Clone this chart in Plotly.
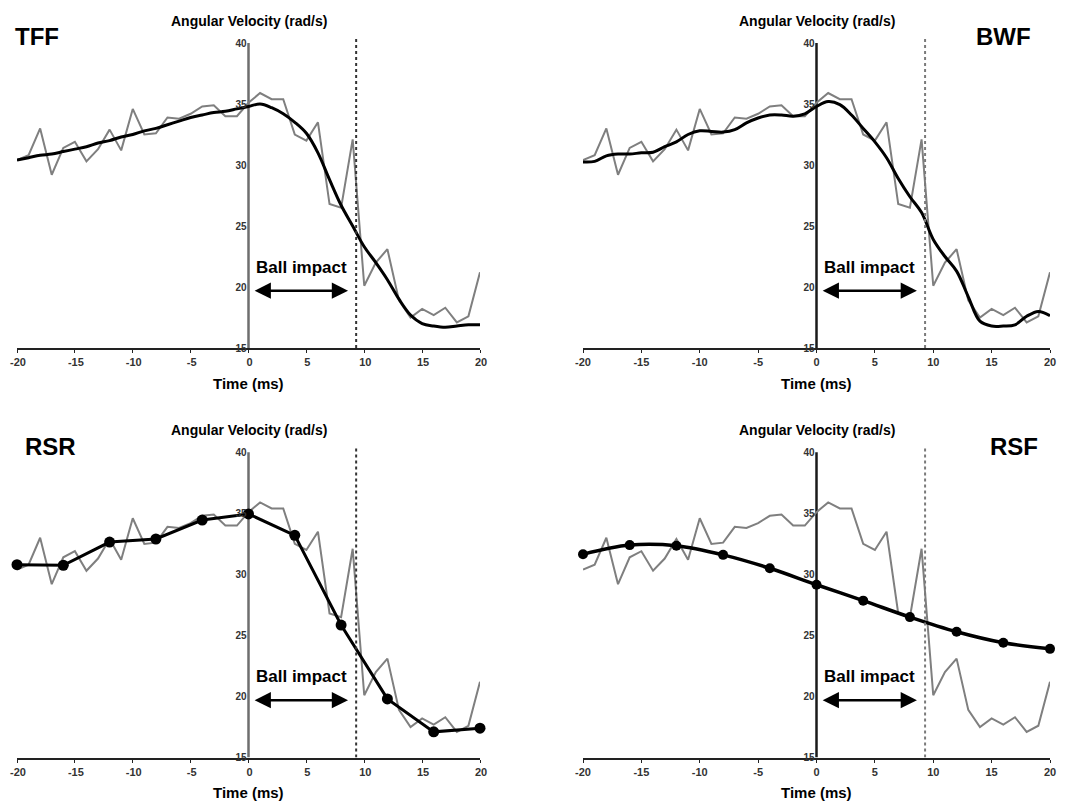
import plotly.graph_objects as go

# ---------------- data ----------------
time_ms = list(range(-20, 21))
raw_velocity = [30.4, 30.8, 33.0, 29.2, 31.4, 31.9, 30.3, 31.3, 32.9, 31.2,
                34.6, 32.5, 32.6, 33.9, 33.8, 34.2, 34.8, 34.9, 34.0, 34.0,
                35.1, 35.9, 35.4, 35.4, 32.5, 32.0, 33.5, 26.8, 26.5, 32.1,
                20.1, 22.0, 23.1, 18.9, 17.5, 18.2, 17.7, 18.3, 17.1, 17.6,
                21.2]
tff_smooth = [30.4, 30.6, 30.8, 30.9, 31.1, 31.3, 31.5, 31.8, 32.0, 32.3,
              32.5, 32.8, 33.0, 33.3, 33.6, 33.9, 34.1, 34.3, 34.4, 34.6,
              34.8, 35.0, 34.7, 34.2, 33.5, 32.6, 31.0, 28.8, 26.7, 25.0,
              23.3, 22.0, 20.6, 19.0, 17.7, 17.0, 16.8, 16.7, 16.8, 16.9,
              16.9]
bwf_smooth = [30.25, 30.3, 30.75, 30.9, 30.9, 31.0, 31.05, 31.5, 31.9, 32.5,
              32.8, 32.75, 32.7, 32.9, 33.45, 33.85, 34.1, 34.1, 34.0, 34.2,
              34.8, 35.2, 34.95, 34.1, 33.0, 31.9, 30.6, 28.9, 27.4, 26.1,
              23.9, 22.5, 21.3, 19.2, 17.2, 16.8, 16.8, 16.9, 17.6, 18.0,
              17.65]
knot_times = [-20, -16, -12, -8, -4, 0, 4, 8, 12, 16, 20]
rsr_knots = [30.8, 30.75, 32.65, 32.9, 34.45, 34.95, 33.2, 25.85, 19.8, 17.1, 17.4]
rsf_knots = [31.65, 32.4, 32.35, 31.6, 30.5, 29.15, 27.85, 26.5, 25.3, 24.4, 23.9]

panel_names = ["TFF", "BWF", "RSR", "RSF"]
x_ticks = [-20, -15, -10, -5, 0, 5, 10, 15, 20]
x_tick_labels = ["-20", "-15", "-10", "-5", "0", "5", "10", "15", "20"]
y_ticks = [15, 20, 25, 30, 35, 40]
impact_time = 9.3
y_title = "Angular Velocity (rad/s)"
x_title = "Time (ms)"
impact_label = "Ball impact"

# ---------------- layout geometry ----------------
W, H = 1081, 809
OFF = 8  # page body margin


def px_x(px):
    return (px - OFF) / W


def px_y(py):
    return 1 - (py - OFF) / H


xd_left = [px_x(17), px_x(480)]
xd_right = [px_x(583), px_x(1050)]
yd_top = [px_y(348), px_y(35.7)]
yd_bot = [px_y(757.5), px_y(445)]
panels = [
    dict(xd=xd_left, yd=yd_top, top=35.7, bot=348, yaxis_col="#6e6e6e", dot_col="#333333",
         lab_x=13, lab_anchor="left", shift=1),
    dict(xd=xd_right, yd=yd_top, top=35.7, bot=348, yaxis_col="#1a1a1a", dot_col="#7a7a7a",
         lab_x=1033, lab_anchor="right", shift=0),
    dict(xd=xd_left, yd=yd_bot, top=445, bot=757.5, yaxis_col="#6e6e6e", dot_col="#333333",
         lab_x=23, lab_anchor="left", shift=1),
    dict(xd=xd_right, yd=yd_bot, top=445, bot=757.5, yaxis_col="#1a1a1a", dot_col="#7a7a7a",
         lab_x=1040, lab_anchor="right", shift=0),
]

fig = go.Figure()
layout = dict(width=W, height=H, margin=dict(l=0, r=0, t=0, b=0, autoexpand=False),
              paper_bgcolor="white", plot_bgcolor="white", showlegend=False,
              font=dict(family="Liberation Sans, Arial, sans-serif", color="black"))
shapes, annotations = [], []
tickfont = dict(family="Liberation Sans, Arial", size=11, color="#333333", weight="bold")

for i, p in enumerate(panels):
    n = "" if i == 0 else str(i + 1)
    xa, ya = "x" + n, "y" + n
    xpos = (p["xd"][0] + p["xd"][1]) / 2
    layout["xaxis" + n] = dict(domain=p["xd"], range=[-20, 20], anchor=ya,
                               tickvals=x_ticks, ticktext=x_tick_labels,
                               ticklabeloverflow="allow", ticklabelshift=p["shift"],
                               showgrid=False, zeroline=False, automargin=False,
                               showline=True, linecolor="#222222", linewidth=2,
                               ticks="outside", ticklen=3, tickcolor="#222222",
                               tickfont=tickfont, fixedrange=True)
    layout["yaxis" + n] = dict(domain=p["yd"], range=[15, 40.6], anchor="free",
                               position=xpos, tickvals=y_ticks, showgrid=False,
                               zeroline=False, showline=False, ticks="",
                               automargin=False, ticklabelstandoff=2,
                               tickfont=dict(family="Liberation Sans, Arial", size=10,
                                             color="#333333", weight="bold"),
                               fixedrange=True)
    # raw gray signal
    fig.add_trace(go.Scatter(x=time_ms, y=raw_velocity, mode="lines",
                             line=dict(color="#7f7f7f", width=2),
                             xaxis=xa, yaxis=ya, hoverinfo="skip"))
    # vertical y-axis line at t = 0
    shapes.append(dict(type="line", xref=xa, yref=ya, x0=0, x1=0, y0=15, y1=40,
                       line=dict(color=p["yaxis_col"], width=2.5), layer="below"))
    # impact dotted line
    shapes.append(dict(type="line", xref=xa, yref=ya, x0=impact_time, x1=impact_time,
                       y0=15, y1=40.5, line=dict(color=p["dot_col"], width=2, dash="dot")))
    # fitted curves
    if i == 0:
        fig.add_trace(go.Scatter(x=time_ms, y=tff_smooth, mode="lines",
                                 line=dict(color="black", width=3, shape="spline"),
                                 xaxis=xa, yaxis=ya))
    elif i == 1:
        fig.add_trace(go.Scatter(x=time_ms, y=bwf_smooth, mode="lines",
                                 line=dict(color="black", width=3, shape="spline"),
                                 xaxis=xa, yaxis=ya))
    elif i == 2:
        fig.add_trace(go.Scatter(x=knot_times, y=rsr_knots, mode="lines+markers",
                                 line=dict(color="black", width=3),
                                 marker=dict(color="black", size=11),
                                 cliponaxis=False, xaxis=xa, yaxis=ya))
    else:
        fig.add_trace(go.Scatter(x=knot_times, y=rsf_knots, mode="lines+markers",
                                 line=dict(color="black", width=3.5, shape="spline"),
                                 marker=dict(color="black", size=10),
                                 cliponaxis=False, xaxis=xa, yaxis=ya))
    # titles
    annotations.append(dict(text="<b>" + y_title + "</b>", xref=xa, x=0,
                            yref="paper", y=px_y(p["top"] - 15), showarrow=False,
                            xanchor="center", yanchor="middle",
                            font=dict(size=14, color="black")))
    annotations.append(dict(text="<b>" + x_title + "</b>", xref=xa, x=0,
                            yref="paper", y=px_y(p["bot"] + 35), showarrow=False,
                            xanchor="center", yanchor="middle",
                            font=dict(size=15, color="black")))
    # panel label
    annotations.append(dict(text="<b>" + panel_names[i] + "</b>", xref="paper",
                            x=px_x(p["lab_x"]), yref="paper", y=px_y(p["top"] + 1),
                            xanchor=p["lab_anchor"], yanchor="middle", showarrow=False,
                            font=dict(size=24, color="black")))
    # ball impact label + arrow
    annotations.append(dict(text="<b>" + impact_label + "</b>", xref=xa, yref=ya,
                            x=0.45, y=21.6, xanchor="left", yanchor="middle",
                            showarrow=False, font=dict(size=17, color="black")))
    annotations.append(dict(text="", xref=xa, yref=ya, x=8.6, y=19.7,
                            axref=xa, ayref=ya, ax=0.4, ay=19.7, showarrow=True,
                            arrowside="end+start", arrowhead=2, arrowsize=1.3,
                            arrowwidth=2.5, arrowcolor="black"))

layout["shapes"] = shapes
layout["annotations"] = annotations
fig.update_layout(**layout)
fig.write_html("out.html")
